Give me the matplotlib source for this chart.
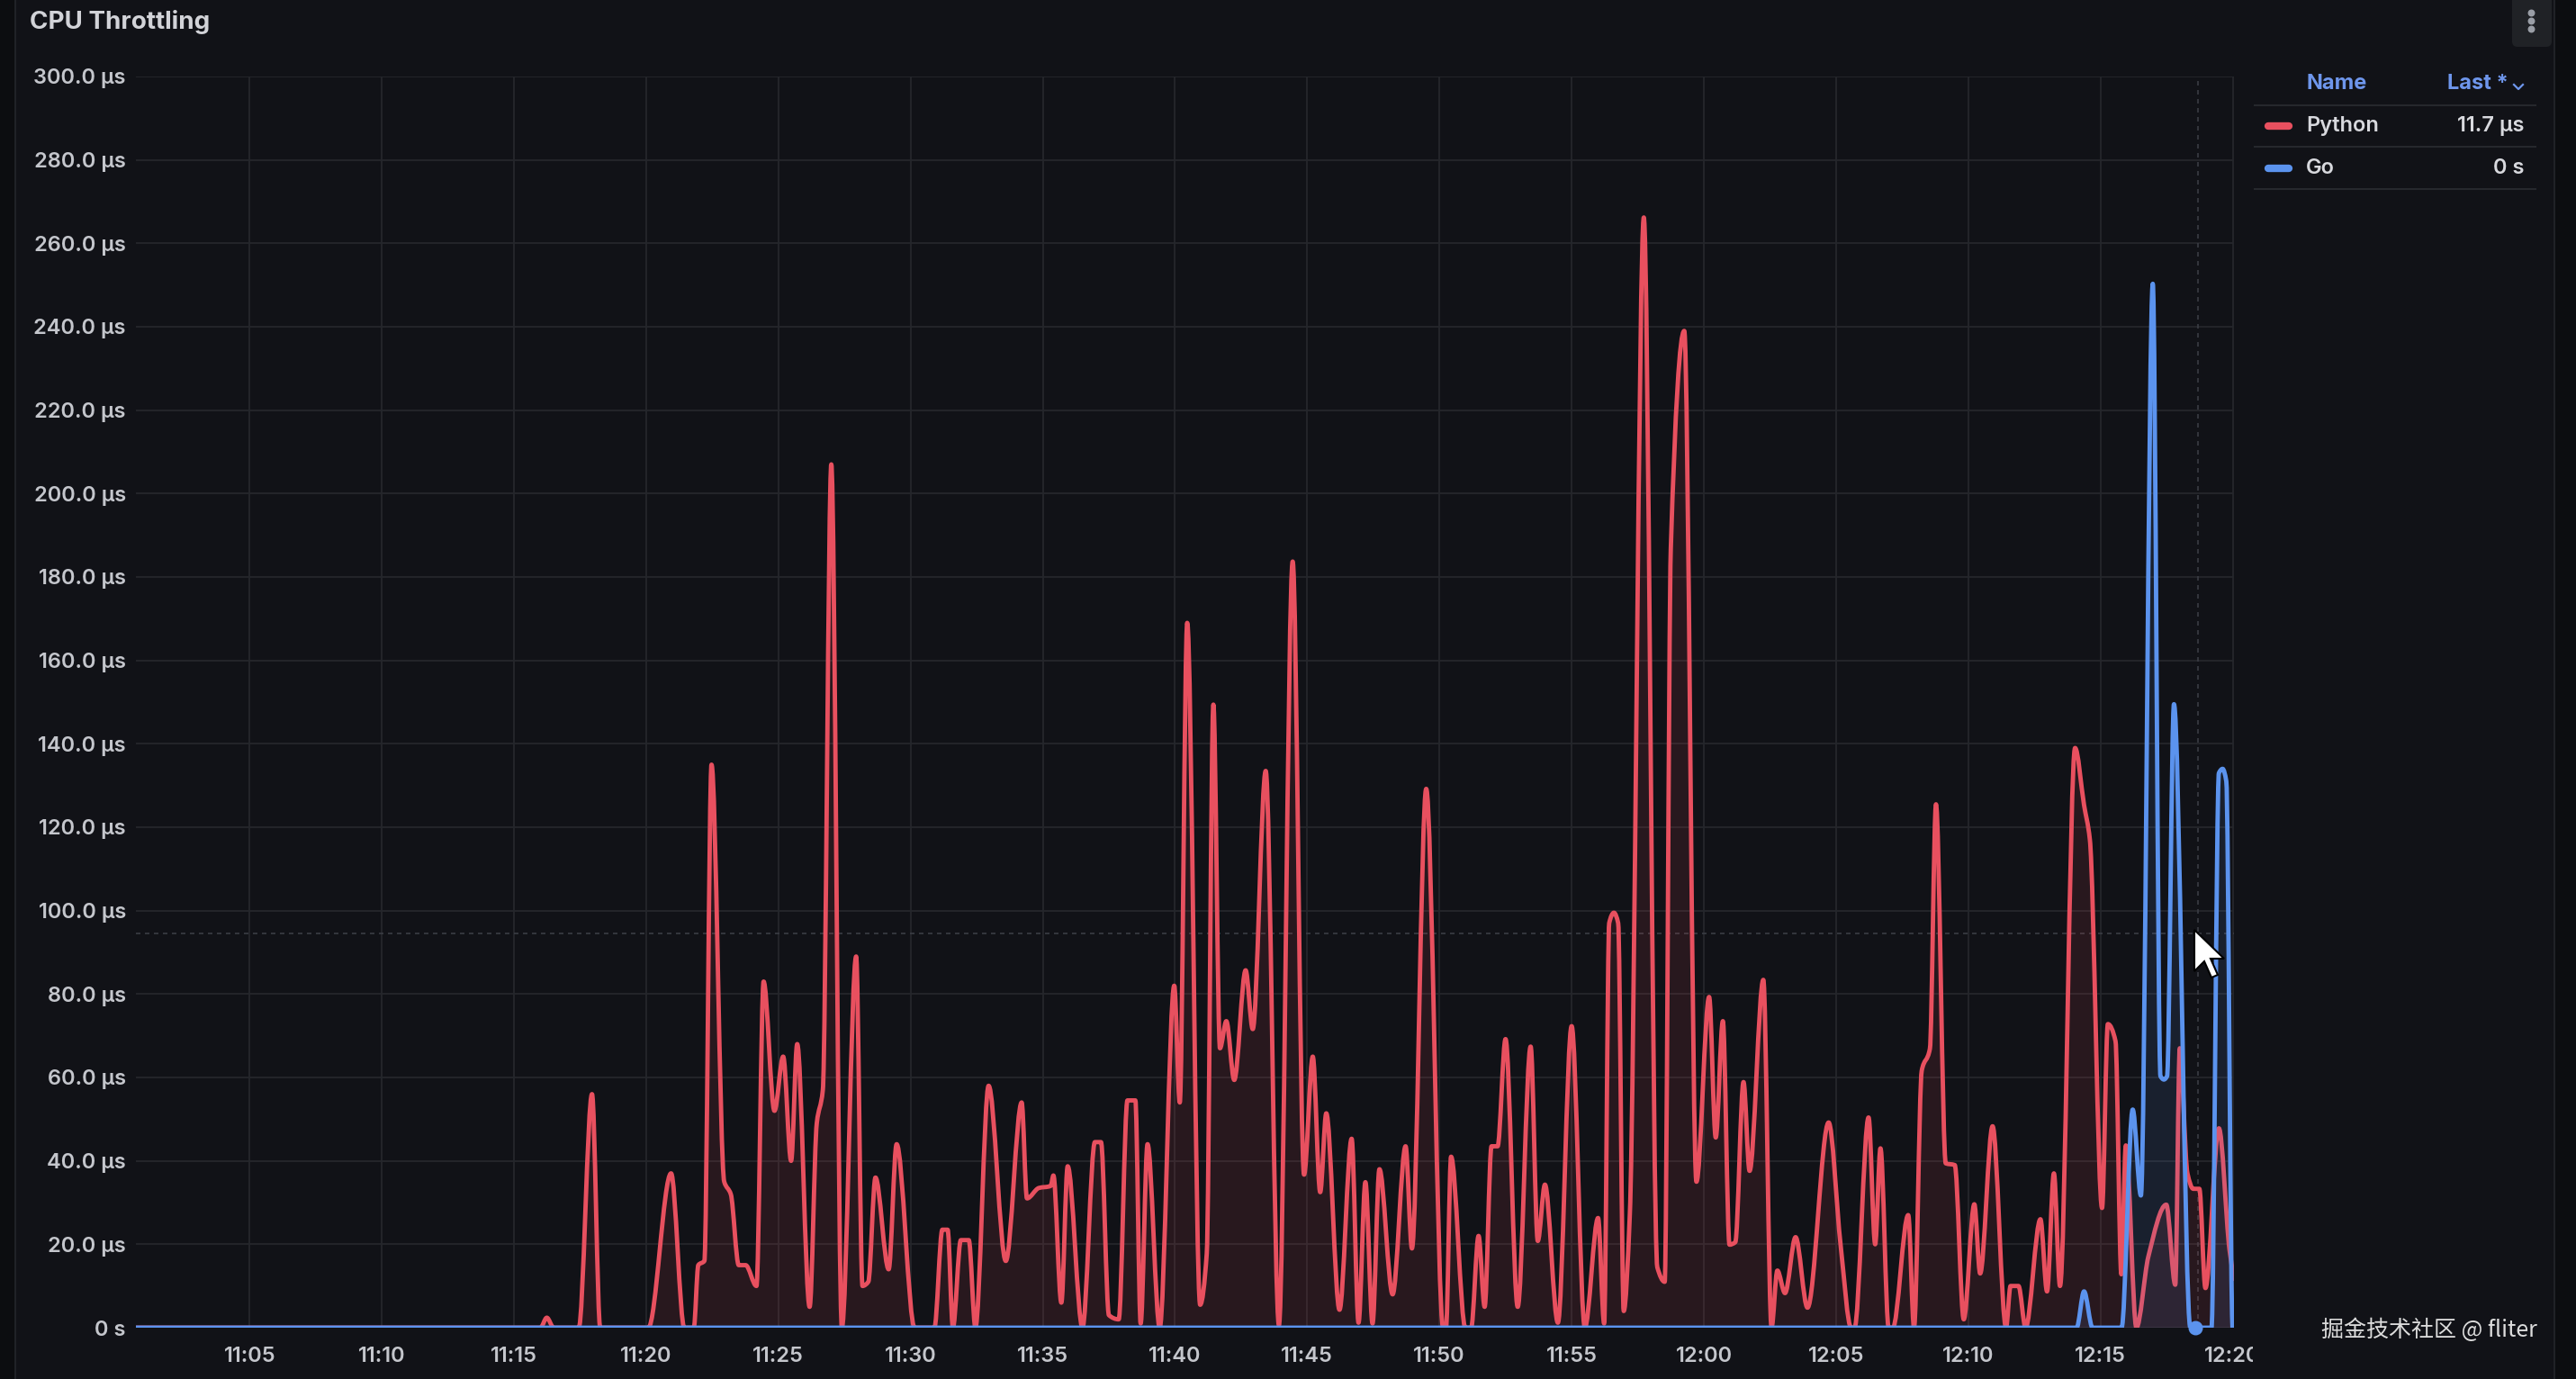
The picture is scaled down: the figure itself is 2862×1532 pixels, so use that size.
import matplotlib
matplotlib.use("Agg")
import matplotlib.pyplot as plt
import numpy as np
from matplotlib.patches import FancyBboxPatch, PathPatch, Polygon, Rectangle
from matplotlib.path import Path
from matplotlib.ticker import FixedLocator, FuncFormatter

# minutes after 11:00, throttling in microseconds
python_t = [0.7, 16.0, 16.24, 16.5, 17.45, 17.95, 18.26, 20.08, 20.94, 21.44, 21.8,
            21.97, 22.2, 22.47, 22.95, 23.2, 23.5, 23.76, 24.17,
            24.44, 24.85, 25.18, 25.48, 25.71, 26.18, 26.45, 26.68, 27.0, 27.4,
            27.94, 28.18, 28.4, 28.67, 29.17, 29.47, 30.15,
            30.9, 31.2, 31.4, 31.6, 31.9, 32.2, 32.45,
            32.95, 33.6, 34.2, 34.4, 34.85, 35.3, 35.4, 35.7, 35.94, 36.5, 36.97, 37.2, 37.5,
            37.87, 38.2, 38.5, 38.7, 38.96, 39.42, 39.97, 40.18, 40.46, 40.95, 41.2, 41.45,
            41.7, 41.94, 42.24, 42.67, 42.94, 43.43, 43.93, 44.45, 44.88, 45.21, 45.49, 45.72,
            46.22, 46.68, 46.94, 47.2, 47.47, 47.73, 48.23, 48.72, 48.96, 49.5, 50.14, 50.25,
            50.44, 50.98, 51.2, 51.48, 51.71, 51.97, 52.2, 52.5, 52.96, 53.45, 53.72, 53.99,
            54.48, 55.0, 55.5, 56.0, 56.23, 56.42, 56.6, 56.76, 56.97, 57.2, 57.73, 58.24, 58.52,
            58.75, 59.26, 59.72, 60.2, 60.45, 60.72, 60.97, 61.19, 61.5, 61.73, 62.25, 62.56,
            62.78, 63.07, 63.47, 63.92, 64.72, 65.17, 65.57, 65.7, 66.23, 66.48, 66.68, 66.99,
            67.15, 67.73, 67.95, 68.24, 68.55, 68.78, 69.15, 69.49, 69.83, 70.23, 70.45, 70.92,
            71.43, 71.6, 71.9, 72.17, 72.73, 72.98, 73.24, 73.47, 74.04, 74.38, 74.6, 75.06,
            75.28, 75.57, 75.79, 75.96, 76.36, 76.81, 77.49, 77.83, 78.0, 78.29, 78.51, 78.74,
            78.97, 79.48, 79.88, 80.05]
python_us = [0, 0, 2.4, 0, 0, 56, 0, 0, 37, 0, 0,
             15, 16, 135, 35, 32, 15, 15, 10,
             83, 52, 65, 40, 68, 5, 49, 57, 207, 0,
             89, 10, 11, 36, 14, 44, 0,
             0, 23.5, 23.5, 0, 21, 21, 0,
             58, 16, 54, 31, 33.5, 34, 36.5, 6, 38.7, 0, 44.5, 44.5, 3,
             2, 54.5, 54.5, 1, 44, 0, 82, 54, 169, 5.5, 17.8, 149.4,
             67, 73.5, 59.4, 85.7, 71.6, 133.5, 0.6, 183.7, 36.7, 65, 32.5, 51.4,
             4.3, 45.3, 1.2, 34.9, 1, 38, 8, 43.5, 19, 129.2, 0, 0,
             41, 0, 0, 22, 5, 43.5, 43.5, 69.2, 5, 67.4, 20.8, 34.3,
             1.2, 72.3, 0, 26.3, 1, 97, 99.5, 97, 4, 27, 266.2, 14.5, 11,
             186.7, 239, 35, 79.3, 45.6, 73.5, 19.9, 20.5, 58.9, 37.6, 83.4, 0,
             13.7, 8.3, 21.7, 4.8, 49.2, 20, 0, 0, 50.4, 20, 43, 0,
             0, 27, 0, 61.6, 66.9, 125.5, 39.4, 39, 2, 29.6, 13, 48.3,
             0, 10, 10, 0, 26, 8.7, 37, 10, 139, 125.3, 117, 28.7,
             72.8, 68.7, 12.8, 43.7, 0, 17, 29.5, 10.3, 67, 37, 33.3, 33.3,
             9.5, 47.8, 18.7, 11.7]

go_t = [0.7, 74.1, 74.38, 74.7, 75.8, 76.22, 76.53, 76.98, 77.27, 77.4, 77.52, 77.78, 78.4,
        79.2, 79.48, 79.62, 79.76, 80.0, 80.05]
go_us = [0, 0, 8.7, 0, 0, 52.3, 31.7, 250.3, 60.3, 59.5, 60.3, 149.5, 0,
         0, 133, 134, 131, 0, 0]

series_names = ["Python", "Go"]
series_last = ["11.7 µs", "0 s"]
series_colors = ["#e8505f", "#5b93ee"]

x_ticks = [5, 10, 15, 20, 25, 30, 35, 40, 45, 50, 55, 60, 65, 70, 75, 80]
y_ticks = list(range(0, 301, 20))
x_range = (0.7, 80.05)
cursor_t, cursor_us = 78.7, 94.5      # hover crosshair
hover_t = 78.6

BG = "#111217"
GRID = "#25272c"
TEXT = "#c4c6cc"
W, H = 2862, 1532


def monotone_slopes(x, y):
    h = np.diff(x)
    d = np.diff(y) / h
    m = np.zeros_like(y)
    m[0], m[-1] = d[0], d[-1]
    for i in range(1, len(x) - 1):
        if d[i - 1] * d[i] <= 0:
            m[i] = 0.0
        else:
            w1 = 2 * h[i] + h[i - 1]
            w2 = h[i] + 2 * h[i - 1]
            m[i] = (w1 + w2) / (w1 / d[i - 1] + w2 / d[i])
    return m


def smooth_path(x, y, closed=False):
    """Bezier path through the points, like Grafana's smooth line mode."""
    x = np.asarray(x, float)
    y = np.asarray(y, float)
    m = monotone_slopes(x, y)
    verts = [(x[0], y[0])]
    codes = [Path.MOVETO]
    for i in range(len(x) - 1):
        h = (x[i + 1] - x[i]) / 3
        verts += [(x[i] + h, y[i] + m[i] * h), (x[i + 1] - h, y[i + 1] - m[i + 1] * h), (x[i + 1], y[i + 1])]
        codes += [Path.CURVE4] * 3
    if closed:
        verts += [(x[-1], 0), (x[0], 0), (x[0], 0)]
        codes += [Path.LINETO, Path.LINETO, Path.CLOSEPOLY]
    return Path(verts, codes)


fig = plt.figure(figsize=(W / 100, H / 100), dpi=100, facecolor=BG)
ax = fig.add_axes([151 / W, 1 - 1475 / H, (2482 - 151) / W, (1475 - 85) / H])
ax.set_facecolor(BG)
for s in ax.spines.values():
    s.set_visible(False)

ax.set_xlim(*x_range)
ax.set_ylim(0, 300)
ax.xaxis.set_major_locator(FixedLocator(x_ticks))
ax.yaxis.set_major_locator(FixedLocator(y_ticks))
ax.xaxis.set_major_formatter(FuncFormatter(lambda v, _: f"{11 + int(v) // 60}:{int(v) % 60:02d}"))
ax.yaxis.set_major_formatter(FuncFormatter(lambda v, _: "0 s" if v == 0 else f"{v:.1f} µs"))
ax.tick_params(length=0, colors=TEXT, labelsize=17)
ax.tick_params(axis="y", pad=8)
ax.tick_params(axis="x", pad=15)
ax.grid(True, color=GRID, linewidth=1.3)
ax.set_axisbelow(True)

# last x label sits on the panel edge and gets cut off
edge_clip = Rectangle((0, 0), 2503 / W, 1, transform=fig.transFigure)
for tick in ax.xaxis.get_major_ticks():
    tick.label1.set_clip_path(edge_clip)
    tick.label1.set_clip_on(True)
for tick in ax.xaxis.get_major_ticks() + ax.yaxis.get_major_ticks():
    tick.label1.set_fontfamily("Inter")
    tick.label1.set_fontweight("semibold")

for t, v, c, z in [(python_t, python_us, series_colors[0], 3), (go_t, go_us, series_colors[1], 5)]:
    ax.add_patch(PathPatch(smooth_path(t, v, closed=True), facecolor=c, alpha=0.11, edgecolor="none", zorder=z))
    ax.add_patch(PathPatch(smooth_path(t, v), facecolor="none", edgecolor=c, linewidth=3.5,
                           capstyle="round", joinstyle="round", zorder=z + 1))

# hover crosshair and point
ax.axhline(cursor_us, color="#3a3d44", linewidth=1.2, linestyle=(0, (3, 3)), zorder=2)
ax.axvline(cursor_t, color="#3a3d44", linewidth=1.2, linestyle=(0, (3, 3)), zorder=2)
ax.scatter([hover_t], [0], s=110, color=series_colors[1], zorder=8, clip_on=False)

# overlay in pixel coordinates for panel chrome
ov = fig.add_axes([0, 0, 1, 1], facecolor="none")
ov.set_xlim(0, W)
ov.set_ylim(H, 0)
ov.axis("off")
ov.add_patch(Rectangle((0, 0), 16, H, color="#0c0d10"))
ov.add_patch(Rectangle((2839, 0), W - 2839, H, color="#0c0d10"))
ov.plot([17, 17], [0, H], color="#202227", linewidth=1.5)
ov.plot([2838, 2838], [0, H], color="#202227", linewidth=1.5)

ov.text(33, 24, "CPU Throttling", fontsize=20, fontweight="bold", color="#d2d3d8",
        fontfamily="Inter", va="center", ha="left")

# menu button
ov.add_patch(FancyBboxPatch((2791, -10), 44, 62, boxstyle="round,pad=0,rounding_size=6",
                            facecolor="#202226", edgecolor="none"))
ov.scatter([2812] * 3, [14, 23, 32], s=22, color="#9a9ea6", zorder=5)

# legend table
ov.text(2562, 93, "Name", fontsize=17, fontweight="bold", color="#6e96ec", fontfamily="Inter", va="center")
ov.text(2719, 93, "Last *", fontsize=17, fontweight="bold", color="#6e96ec", fontfamily="Inter", va="center")
ov.plot([2793, 2798, 2803], [94, 99, 94], color="#6e96ec", linewidth=1.6)
for yy in (117, 163, 210):
    ov.plot([2505, 2817], [yy, yy], color="#26282d", linewidth=1.5)
for i, yy in enumerate((140, 187)):
    ov.plot([2520, 2543], [yy, yy], color=series_colors[i], linewidth=6, solid_capstyle="round")
    ov.text(2562, yy, series_names[i], fontsize=17, fontweight="semibold", color="#d8d9de",
            fontfamily="Inter", va="center")
    ov.text(2804, yy, series_last[i], fontsize=17, fontweight="semibold", color="#d8d9de",
            fontfamily="Inter", va="center", ha="right")

# mouse pointer
tip_x, tip_y = 2438, 1033
arrow = np.array([(0, 0), (0, 46), (11, 35), (19, 53), (26, 50), (18, 32), (33, 32)])
ov.add_patch(Polygon(arrow + (tip_x, tip_y), closed=True, facecolor="white", edgecolor="black",
                     linewidth=1.5, zorder=9))

ov.text(2579, 1478, "掘金技术社区 @ fliter", fontsize=18, color="#dcdcdc", va="center", ha="left",
        family=["Noto Sans CJK SC", "DejaVu Sans"])

fig.savefig("out.png", dpi=100, facecolor=BG)
